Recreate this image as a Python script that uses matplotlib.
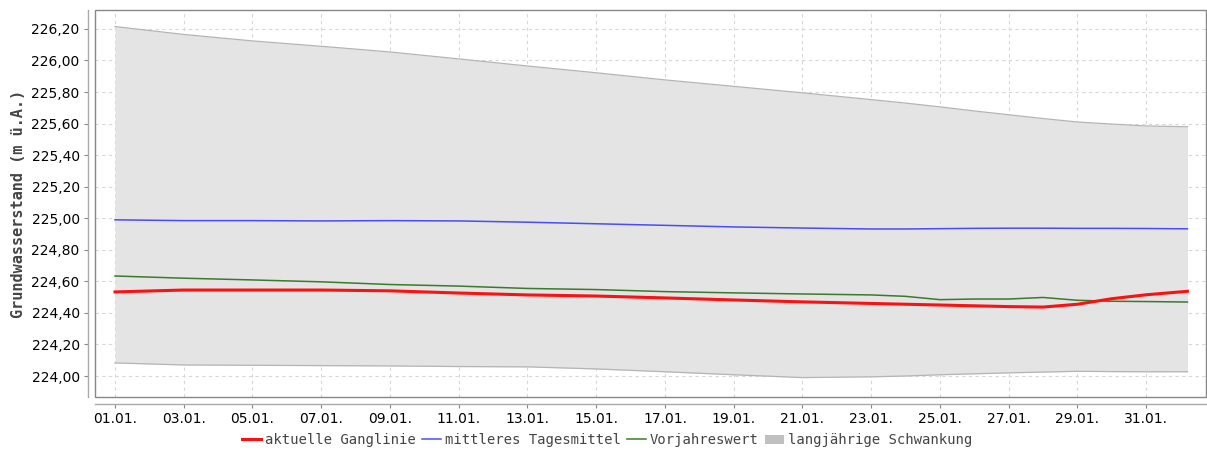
import matplotlib
matplotlib.use("Agg")
import matplotlib.pyplot as plt
from matplotlib.patches import Rectangle, Patch
from matplotlib.lines import Line2D

# Day of January (1 = 01.01.)
days = [1, 3, 5, 7, 9, 11, 13, 15, 17, 19, 21, 23, 24, 25, 26, 27, 28, 29, 30, 31, 32.2]

aktuell = [224.533, 224.545, 224.545, 224.545, 224.540, 224.526, 224.514, 224.507,
           224.495, 224.482, 224.470, 224.460, 224.455, 224.450, 224.445, 224.440,
           224.437, 224.455, 224.490, 224.515, 224.537]
mittel = [224.990, 224.985, 224.985, 224.983, 224.985, 224.983, 224.975, 224.965,
          224.955, 224.945, 224.938, 224.932, 224.932, 224.934, 224.936, 224.937,
          224.937, 224.936, 224.936, 224.935, 224.933]
vorjahr = [224.634, 224.620, 224.609, 224.597, 224.580, 224.570, 224.555, 224.548,
           224.535, 224.527, 224.520, 224.514, 224.505, 224.484, 224.488, 224.488,
           224.498, 224.480, 224.474, 224.472, 224.469]
band_hi = [226.215, 226.165, 226.124, 226.090, 226.054, 226.010, 225.965, 225.922,
           225.877, 225.836, 225.795, 225.752, 225.730, 225.706, 225.680, 225.656,
           225.632, 225.610, 225.597, 225.585, 225.580]
band_lo = [224.083, 224.070, 224.068, 224.066, 224.064, 224.060, 224.058, 224.045,
           224.027, 224.008, 223.990, 223.995, 224.000, 224.008, 224.014, 224.020,
           224.025, 224.030, 224.028, 224.027, 224.027]

xticks = list(range(1, 32, 2))
xtick_labels = [f"{d:02d}.01." for d in xticks]
yticks = [224.0 + 0.2 * i for i in range(12)]
ytick_labels = [f"{v:.2f}".replace(".", ",") for v in yticks]

mono = "DejaVu Sans Mono"
fig = plt.figure(figsize=(12.07, 4.53), dpi=100)
ax = fig.add_axes([95 / 1207, 1 - 397 / 453, (1206 - 95) / 1207, (397 - 10) / 453])

ax.fill_between(days, band_lo, band_hi, color="#e4e4e4", zorder=1, linewidth=0)
ax.plot(days, band_hi, color="#b4b4b4", lw=0.9, zorder=2)
ax.plot(days, band_lo, color="#b4b4b4", lw=0.9, zorder=2)
ax.plot(days, mittel, color="#4a4aff", lw=1.1, zorder=3)
ax.plot(days, vorjahr, color="#3a7a2c", lw=1.1, zorder=4)
ax.plot(days, aktuell, color="#ff1010", lw=2.2, zorder=5)

ax.set_xlim(0.418, 32.74)
ax.set_ylim(223.867, 226.32)
ax.set_xticks(xticks)
ax.set_xticklabels(xtick_labels, fontfamily=mono, fontsize=9.5, color="#505050")
ax.set_yticks(yticks)
ax.set_yticklabels(ytick_labels, fontfamily=mono, fontsize=9.5, color="#505050")
ax.grid(True, color="#d8d8d8", linestyle=(0, (3, 3)), linewidth=0.8, zorder=0)
ax.set_axisbelow(True)
ax.tick_params(axis="both", length=3, width=0.8, color="#888888", pad=3)

for s in ["left", "bottom"]:
    ax.spines[s].set_position(("outward", 5))
    ax.spines[s].set_color("#aaaaaa")
    ax.spines[s].set_linewidth(1.0)
for s in ["top", "right"]:
    ax.spines[s].set_visible(False)
ax.add_patch(Rectangle((0, 0), 1, 1, transform=ax.transAxes, fill=False,
                       edgecolor="#888888", lw=1.0, clip_on=False, zorder=10))

ax.set_ylabel("Grundwasserstand (m ü.A.)", fontfamily=mono, fontweight="bold",
              fontsize=11, color="#444444")
ax.yaxis.set_label_coords(-0.0625, 0.5)

handles = [Line2D([], [], color="#ff1010", lw=2.2),
           Line2D([], [], color="#4a4aff", lw=1.1),
           Line2D([], [], color="#3a7a2c", lw=1.1),
           Patch(facecolor="#c0c0c0", edgecolor="none")]
labels = ["aktuelle Ganglinie", "mittleres Tagesmittel", "Vorjahreswert",
          "langjährige Schwankung"]
fig.legend(handles, labels, loc="center", bbox_to_anchor=(607 / 1207, 1 - 440 / 453),
           ncol=4, frameon=False, prop={"family": mono, "size": 10},
           handlelength=1.4, handletextpad=0.25, columnspacing=0.45,
           handleheight=0.6, labelcolor="#444444")

fig.savefig("out.png", dpi=100)
